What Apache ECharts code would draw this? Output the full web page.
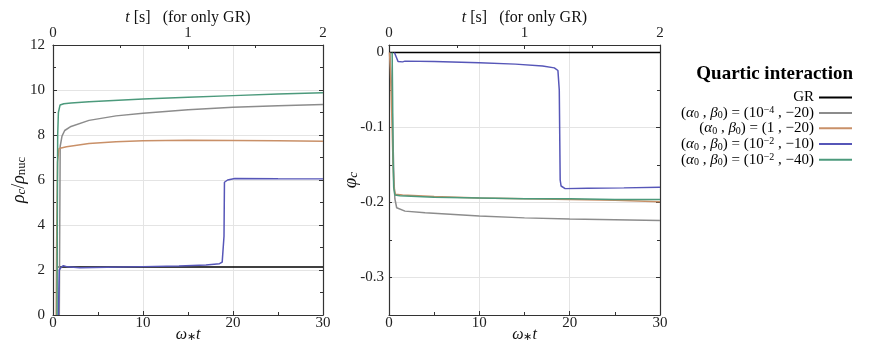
<!DOCTYPE html>
<html>
<head>
<meta charset="utf-8">
<title>Quartic interaction</title>
<script src="https://cdn.jsdelivr.net/npm/echarts@6/dist/echarts.min.js"></script>
<style>
    html, body { margin: 0; padding: 0; background: #fff; }
    #chart { width: 872px; height: 350px; }
</style>
</head>
<body>
<div id="chart"></div>
<script>
// omega_* t values (GR uses t [s] on the top axis)
const grT = [0.04, 2];
const grRho = [2.13, 2.13];
const grPhiT = [0, 2];
const grPhi = [0, 0];

const grayRhoX = [0.7, 0.75, 0.8, 1.0, 1.3, 2, 4, 7, 10, 15, 20, 25, 30];
const grayRho = [0, 4, 7.5, 7.95, 8.2, 8.38, 8.65, 8.85, 8.97, 9.12, 9.23, 9.3, 9.36];

const orangeRhoX = [0.35, 0.4, 0.5, 0.67, 1.5, 4, 7, 10, 15, 20, 25, 30];
const orangeRho = [0, 3, 6.8, 7.4, 7.48, 7.62, 7.7, 7.74, 7.77, 7.76, 7.74, 7.72];

const blueRhoX = [0.6, 0.65, 0.7, 0.9, 1.15, 1.6, 3, 6, 10, 14, 17, 18.5, 18.8, 19.0, 19.05, 19.4, 20.2, 25, 30];
const blueRho = [0, 1.0, 2.0, 2.12, 2.19, 2.14, 2.1, 2.12, 2.15, 2.18, 2.22, 2.28, 2.35, 3.5, 5.9, 6.0, 6.07, 6.06, 6.05];

const greenRhoX = [0.45, 0.48, 0.52, 0.6, 0.78, 1.2, 2, 4, 10, 15, 20, 25, 30];
const greenRho = [0, 4, 8, 9.0, 9.33, 9.39, 9.42, 9.48, 9.6, 9.68, 9.75, 9.82, 9.88];

const grayPhiX = [0.1, 0.3, 0.45, 0.55, 0.65, 0.85, 1.77, 4, 10, 15, 20, 25, 30];
const grayPhi = [0, -0.05, -0.12, -0.17, -0.195, -0.207, -0.2115, -0.2137, -0.218, -0.2205, -0.222, -0.223, -0.224];

const orangePhiX = [0.05, 0.15, 0.3, 0.45, 0.55, 0.7, 1.5, 5, 10, 15, 20, 25, 30];
const orangePhi = [0, -0.02, -0.08, -0.15, -0.18, -0.189, -0.19, -0.192, -0.194, -0.195, -0.196, -0.197, -0.199];

const bluePhiX = [0.6, 0.8, 1.0, 1.22, 1.5, 1.77, 5, 10, 14, 17, 18.3, 18.7, 18.85, 18.95, 19.05, 19.5, 22, 26, 30];
const bluePhi = [0, -0.006, -0.012, -0.014, -0.0125, -0.0115, -0.012, -0.0137, -0.0155, -0.018, -0.0205, -0.024, -0.05, -0.17, -0.178, -0.1815, -0.181, -0.1805, -0.1797];

const greenPhiX = [0.35, 0.4, 0.45, 0.52, 0.65, 1.2, 5, 10, 15, 20, 25, 30];
const greenPhi = [0, -0.06, -0.14, -0.18, -0.19, -0.191, -0.193, -0.194, -0.195, -0.195, -0.196, -0.196];

const seriesNames = ["GR", "a4b20", "a0b20", "a2b10", "a2b40"];
const seriesColors = ["#000000", "#8c8c8c", "#c99068", "#5656b8", "#4c9a7c"];
const legendLabels = [
    "{n|GR}",
    "{n|(}{i|α}{sb|0}{n| , }{i|β}{sb|0}{n|) = (10}{sp|−4}{n| , −20)}",
    "{n|(}{i|α}{sb|0}{n| , }{i|β}{sb|0}{n|) = (1 , −20)}",
    "{n|(}{i|α}{sb|0}{n| , }{i|β}{sb|0}{n|) = (10}{sp|−2}{n| , −10)}",
    "{n|(}{i|α}{sb|0}{n| , }{i|β}{sb|0}{n|) = (10}{sp|−2}{n| , −40)}"
];

const SERIF = "Liberation Serif";
const FRAME = "#333333";
const GRID_LINE = "#e4e4e4";

function zip(xs, ys) {
    return xs.map((x, i) => [x, ys[i]]);
}

function nameRich(size) {
    return {
        n: { fontFamily: SERIF, fontSize: size, color: "#111" },
        i: { fontFamily: SERIF, fontStyle: "italic", fontSize: size, color: "#111" },
        sb: { fontFamily: SERIF, fontSize: size * 0.7, color: "#111", verticalAlign: "bottom", lineHeight: 10 },
        sbi: { fontFamily: SERIF, fontStyle: "italic", fontSize: size * 0.7, color: "#111", verticalAlign: "bottom", lineHeight: 10 }
    };
}

function bottomAxis(gridIndex) {
    return {
        type: "value",
        gridIndex,
        position: "bottom",
        min: 0,
        max: 30,
        interval: 10,
        name: "{i|ω}{sb|∗}{i|t}",
        nameLocation: "middle",
        nameGap: 12,
        nameMoveOverlap: false,
        nameTextStyle: { rich: nameRich(16) },
        axisLine: { onZero: false, lineStyle: { color: FRAME, width: 1.2 } },
        axisTick: { inside: true, length: 4, lineStyle: { color: FRAME } },
        minorTick: { show: true, splitNumber: 2, length: 3, lineStyle: { color: FRAME } },
        axisLabel: { fontFamily: SERIF, fontSize: 15, color: "#222", margin: 1 },
        splitLine: { show: true, lineStyle: { color: GRID_LINE } }
    };
}

function topAxis(gridIndex) {
    return {
        type: "value",
        gridIndex,
        position: "top",
        min: 0,
        max: 2,
        interval: 1,
        name: "{i|t}{n| [s]   (for only GR)}",
        nameLocation: "middle",
        nameGap: 19,
        nameMoveOverlap: false,
        nameTextStyle: { rich: nameRich(16) },
        axisLine: { onZero: false, lineStyle: { color: FRAME, width: 1.2 } },
        axisTick: { inside: true, length: 4, lineStyle: { color: FRAME } },
        minorTick: { show: true, splitNumber: 2, length: 3, lineStyle: { color: FRAME } },
        axisLabel: { fontFamily: SERIF, fontSize: 15, color: "#222", margin: 4 },
        splitLine: { show: false }
    };
}

function lineSeries(name, data, xAxisIndex, yAxisIndex, color) {
    return {
        name,
        type: "line",
        xAxisIndex,
        yAxisIndex,
        data,
        showSymbol: false,
        symbol: "none",
        silent: true,
        lineStyle: { color, width: 1.5 },
        itemStyle: { color }
    };
}

const chart = echarts.init(document.getElementById("chart"));

chart.setOption({
    animation: false,
    title: {
        text: "Quartic interaction",
        right: 19,
        top: 65,
        padding: 0,
        textStyle: { fontFamily: SERIF, fontWeight: "bold", fontSize: 19, color: "#000" }
    },
    legend: {
        orient: "vertical",
        align: "right",
        right: 20,
        top: 90,
        padding: 0,
        itemGap: 0,
        itemWidth: 33,
        itemHeight: 2,
        icon: "rect",
        selectedMode: false,
        data: seriesNames,
        formatter: name => legendLabels[seriesNames.indexOf(name)],
        textStyle: {
            rich: {
                n: { fontFamily: SERIF, fontSize: 15, color: "#000", lineHeight: 15.75 },
                i: { fontFamily: SERIF, fontStyle: "italic", fontSize: 15, color: "#000", lineHeight: 15.75 },
                sb: { fontFamily: SERIF, fontSize: 10, color: "#000", verticalAlign: "bottom", lineHeight: 8 },
                sp: { fontFamily: SERIF, fontSize: 10, color: "#000", verticalAlign: "top", lineHeight: 8 }
            }
        }
    },
    grid: [
        { left: 53, top: 45, width: 270, height: 270, outerBoundsMode: "none" },
        { left: 389, top: 45, width: 271, height: 270, outerBoundsMode: "none" }
    ],
    xAxis: [bottomAxis(0), topAxis(0), bottomAxis(1), topAxis(1)],
    yAxis: [
        {
            type: "value",
            gridIndex: 0,
            position: "left",
            min: 0,
            max: 12,
            interval: 2,
            name: "{i|ρ}{sbi|c}{n|/}{i|ρ}{sb|nuc}",
            nameLocation: "middle",
            nameGap: 25,
            nameMoveOverlap: false,
            nameTextStyle: { rich: nameRich(18) },
            axisLine: { onZero: false, lineStyle: { color: FRAME, width: 1.2 } },
            axisTick: { inside: true, length: 4, lineStyle: { color: FRAME } },
            minorTick: { show: true, splitNumber: 2, length: 3, lineStyle: { color: FRAME } },
            axisLabel: { fontFamily: SERIF, fontSize: 15, color: "#222", margin: 8 },
            splitLine: { show: true, lineStyle: { color: GRID_LINE } }
        },
        {
            type: "value",
            gridIndex: 0,
            position: "right",
            min: 0,
            max: 12,
            interval: 2,
            axisLine: { onZero: false, lineStyle: { color: FRAME, width: 1.2 } },
            axisTick: { inside: true, length: 4, lineStyle: { color: FRAME } },
            minorTick: { show: true, splitNumber: 2, length: 3, lineStyle: { color: FRAME } },
            axisLabel: { show: false },
            splitLine: { show: false }
        },
        {
            type: "value",
            gridIndex: 1,
            position: "left",
            min: -0.35,
            max: 0.01,
            interval: 0.05,
            name: "{i|φ}{sbi|c}",
            nameLocation: "middle",
            nameGap: 29,
            nameMoveOverlap: false,
            nameTextStyle: { rich: nameRich(19) },
            axisLine: { onZero: false, lineStyle: { color: FRAME, width: 1.2 } },
            axisTick: { inside: true, length: 3, lineStyle: { color: FRAME } },
            axisLabel: {
                fontFamily: SERIF,
                fontSize: 15,
                color: "#222",
                margin: 5,
                formatter: v => {
                    const tenths = Math.round(v * 10);
                    if (Math.abs(tenths - v * 10) > 1e-6) return "";
                    return tenths === 0 ? "0" : (tenths / 10).toFixed(1);
                }
            },
            splitLine: { show: false }
        },
        {
            type: "value",
            gridIndex: 1,
            position: "right",
            min: -0.35,
            max: 0.01,
            axisLine: { onZero: false, lineStyle: { color: FRAME, width: 1.2 } },
            axisTick: { inside: true, length: 4, lineStyle: { color: FRAME } },
            minorTick: { show: true, splitNumber: 2, length: 3, lineStyle: { color: FRAME } },
            axisLabel: { show: false },
            splitLine: { show: true, lineStyle: { color: GRID_LINE } }
        }
    ],
    series: [
        lineSeries(seriesNames[0], zip(grT, grRho), 1, 0, seriesColors[0]),
        lineSeries(seriesNames[1], zip(grayRhoX, grayRho), 0, 0, seriesColors[1]),
        lineSeries(seriesNames[2], zip(orangeRhoX, orangeRho), 0, 0, seriesColors[2]),
        lineSeries(seriesNames[3], zip(blueRhoX, blueRho), 0, 0, seriesColors[3]),
        lineSeries(seriesNames[4], zip(greenRhoX, greenRho), 0, 0, seriesColors[4]),
        lineSeries(seriesNames[0], zip(grPhiT, grPhi), 3, 2, seriesColors[0]),
        lineSeries(seriesNames[1], zip(grayPhiX, grayPhi), 2, 2, seriesColors[1]),
        lineSeries(seriesNames[2], zip(orangePhiX, orangePhi), 2, 2, seriesColors[2]),
        lineSeries(seriesNames[3], zip(bluePhiX, bluePhi), 2, 2, seriesColors[3]),
        lineSeries(seriesNames[4], zip(greenPhiX, greenPhi), 2, 2, seriesColors[4])
    ]
});
</script>
</body>
</html>
